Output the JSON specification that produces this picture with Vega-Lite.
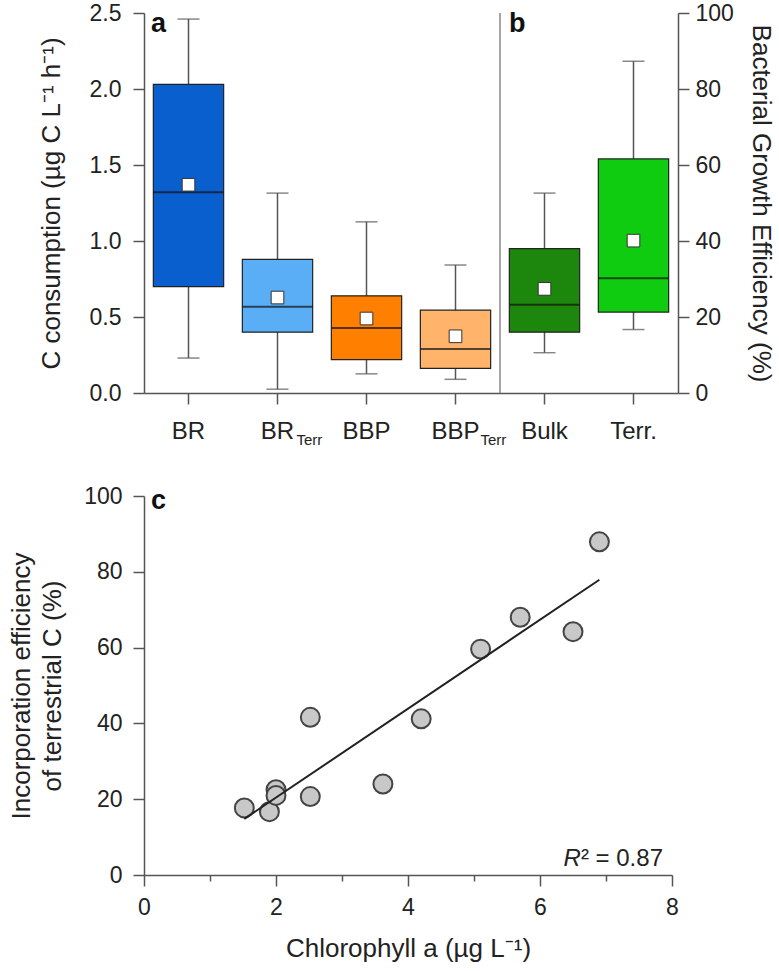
{
  "$schema": "https://vega.github.io/schema/vega-lite/v6.json",
  "padding": {"left": 8, "top": 2, "right": 2, "bottom": 5},
  "bounds": "flush",
  "spacing": 103,
  "config": {
    "view": {"stroke": null},
    "font": "Liberation Sans",
    "axis": {
      "domainColor": "#555", "domainWidth": 1.5,
      "tickColor": "#555", "tickWidth": 1.5, "tickSize": 11,
      "labelFont": "Liberation Sans", "labelFontSize": 23, "labelColor": "#222", "labelPadding": 7,
      "titleFont": "Liberation Sans", "titleFontSize": 26, "titleFontWeight": "normal", "titleColor": "#222",
      "grid": false, "labelOverlap": false, "labelFlush": false
    }
  },
  "datasets": {
    "boxesA": [
      {"cat": "BR", "lo": 0.23, "q1": 0.70, "med": 1.32, "q3": 2.03, "hi": 2.46, "mean": 1.37},
      {"cat": "BR_Terr", "lo": 0.025, "q1": 0.40, "med": 0.567, "q3": 0.879, "hi": 1.315, "mean": 0.628},
      {"cat": "BBP", "lo": 0.126, "q1": 0.22, "med": 0.427, "q3": 0.639, "hi": 1.126, "mean": 0.49},
      {"cat": "BBP_Terr", "lo": 0.09, "q1": 0.162, "med": 0.29, "q3": 0.545, "hi": 0.842, "mean": 0.373}
    ],
    "boxesB": [
      {"cat": "Bulk", "lo": 10.6, "q1": 16.0, "med": 23.2, "q3": 38.0, "hi": 52.6, "mean": 27.4},
      {"cat": "Terr.", "lo": 16.7, "q1": 21.3, "med": 30.2, "q3": 61.6, "hi": 87.3, "mean": 40.1}
    ],
    "subs": [
      {"cat": "BR_Terr", "sub": "Terr"},
      {"cat": "BBP_Terr", "sub": "Terr"}
    ],
    "points": [
      {"chl": 1.52, "eff": 17.7},
      {"chl": 1.90, "eff": 16.7},
      {"chl": 2.00, "eff": 22.5},
      {"chl": 2.00, "eff": 21.0},
      {"chl": 2.52, "eff": 41.6},
      {"chl": 2.52, "eff": 20.7},
      {"chl": 3.62, "eff": 24.0},
      {"chl": 4.20, "eff": 41.2},
      {"chl": 5.10, "eff": 59.6},
      {"chl": 5.70, "eff": 68.0},
      {"chl": 6.50, "eff": 64.2},
      {"chl": 6.90, "eff": 87.9}
    ],
    "fit": [
      {"chl": 1.52, "eff": 14.8},
      {"chl": 6.90, "eff": 77.9}
    ]
  },
  "vconcat": [
    {
      "width": 534,
      "height": 380,
      "layer": [
        {
          "data": {"name": "boxesA"},
          "encoding": {
            "x": {
              "field": "cat", "type": "nominal", "title": null,
              "scale": {"domain": ["BR", "BR_Terr", "BBP", "BBP_Terr", "Bulk", "Terr."], "paddingInner": 0, "paddingOuter": 0},
              "axis": {"labelExpr": "replace(datum.label, '_Terr', '')", "labelAngle": 0, "labelFontSize": 24, "labelPadding": 15, "title": null}
            }
          },
          "layer": [
            {
              "mark": {"type": "rule", "color": "#555", "strokeWidth": 1.5},
              "encoding": {
                "y": {
                  "field": "lo", "type": "quantitative",
                  "scale": {"domain": [0, 2.5], "nice": false, "zero": true},
                  "axis": {
                    "title": "C consumption (µg C L⁻¹ h⁻¹)",
                    "titlePadding": 25,
                    "labelPadding": 12,
                    "values": [0, 0.25, 0.5, 0.75, 1, 1.25, 1.5, 1.75, 2, 2.25, 2.5],
                    "labelExpr": "datum.value % 0.5 == 0 ? format(datum.value, '.1f') : ''",
                    "tickSize": {"condition": {"test": "datum.value % 0.5 != 0", "value": 6}, "value": 11}
                  }
                },
                "y2": {"field": "hi"}
              }
            },
            {
              "mark": {"type": "tick", "color": "#555", "thickness": 1.5, "size": 22},
              "encoding": {"y": {"field": "lo", "type": "quantitative"}}
            },
            {
              "mark": {"type": "tick", "color": "#555", "thickness": 1.5, "size": 22},
              "encoding": {"y": {"field": "hi", "type": "quantitative"}}
            },
            {
              "mark": {"type": "bar", "stroke": "#222", "strokeWidth": 1.2, "opacity": 1, "width": {"band": 0.79}},
              "encoding": {
                "y": {"field": "q1", "type": "quantitative"},
                "y2": {"field": "q3"},
                "color": {
                  "field": "cat", "type": "nominal", "legend": null,
                  "scale": {"domain": ["BR", "BR_Terr", "BBP", "BBP_Terr", "Bulk", "Terr."], "range": ["#0a5fcf", "#5aaef5", "#ff8000", "#ffb36b", "#1d870d", "#10cc10"]}
                }
              }
            },
            {
              "mark": {"type": "tick", "color": "#111", "thickness": 2, "size": 70},
              "encoding": {"y": {"field": "med", "type": "quantitative"}}
            },
            {
              "mark": {"type": "point", "shape": "square", "filled": true, "fill": "white", "stroke": "#333", "strokeWidth": 1, "size": 160, "opacity": 1},
              "encoding": {"y": {"field": "mean", "type": "quantitative"}}
            },
            {
              "data": {"name": "subs"},
              "transform": [{"filter": "datum.cat == 'BR_Terr'"}],
              "mark": {"type": "text", "fontSize": 15, "align": "left", "baseline": "alphabetic", "dx": 19, "dy": 52, "color": "#222"},
              "encoding": {
                "x": {"field": "cat", "type": "nominal"},
                "y": {"value": "height"},
                "text": {"field": "sub"}
              }
            },
            {
              "data": {"name": "subs"},
              "transform": [{"filter": "datum.cat == 'BBP_Terr'"}],
              "mark": {"type": "text", "fontSize": 15, "align": "left", "baseline": "alphabetic", "dx": 25, "dy": 52, "color": "#222"},
              "encoding": {
                "x": {"field": "cat", "type": "nominal"},
                "y": {"value": "height"},
                "text": {"field": "sub"}
              }
            },
            {
              "data": {"values": [{}]},
              "mark": {"type": "rule", "color": "#888", "strokeWidth": 1.5},
              "encoding": {"x": {"datum": "Bulk", "bandPosition": 0}}
            },
            {
              "data": {"values": [{"lab": "a"}]},
              "mark": {"type": "text", "fontSize": 27, "fontWeight": "bold", "align": "left", "baseline": "alphabetic", "dx": 7, "dy": 19, "color": "#111"},
              "encoding": {
                "x": {"datum": "BR", "bandPosition": 0},
                "y": {"datum": 2.5, "type": "quantitative"},
                "text": {"field": "lab"}
              }
            }
          ]
        },
        {
          "data": {"name": "boxesB"},
          "encoding": {
            "x": {
              "field": "cat", "type": "nominal", "title": null,
              "scale": {"domain": ["BR", "BR_Terr", "BBP", "BBP_Terr", "Bulk", "Terr."], "paddingInner": 0, "paddingOuter": 0}
            }
          },
          "layer": [
            {
              "mark": {"type": "rule", "color": "#555", "strokeWidth": 1.5},
              "encoding": {
                "y": {
                  "field": "lo", "type": "quantitative",
                  "scale": {"domain": [0, 100], "nice": false},
                  "axis": {
                    "orient": "right",
                    "title": "Bacterial Growth Efficiency (%)",
                    "titlePadding": 14,
                    "labelPadding": 6,
                    "values": [0, 10, 20, 30, 40, 50, 60, 70, 80, 90, 100],
                    "labelExpr": "datum.value % 20 == 0 ? format(datum.value, 'd') : ''",
                    "tickSize": {"condition": {"test": "datum.value % 20 != 0", "value": 6}, "value": 11}
                  }
                },
                "y2": {"field": "hi"}
              }
            },
            {
              "mark": {"type": "tick", "color": "#555", "thickness": 1.5, "size": 22},
              "encoding": {"y": {"field": "lo", "type": "quantitative"}}
            },
            {
              "mark": {"type": "tick", "color": "#555", "thickness": 1.5, "size": 22},
              "encoding": {"y": {"field": "hi", "type": "quantitative"}}
            },
            {
              "mark": {"type": "bar", "stroke": "#222", "strokeWidth": 1.2, "opacity": 1, "width": {"band": 0.79}},
              "encoding": {
                "y": {"field": "q1", "type": "quantitative"},
                "y2": {"field": "q3"},
                "color": {
                  "field": "cat", "type": "nominal", "legend": null,
                  "scale": {"domain": ["BR", "BR_Terr", "BBP", "BBP_Terr", "Bulk", "Terr."], "range": ["#0a5fcf", "#5aaef5", "#ff8000", "#ffb36b", "#1d870d", "#10cc10"]}
                }
              }
            },
            {
              "mark": {"type": "tick", "color": "#111", "thickness": 2, "size": 70},
              "encoding": {"y": {"field": "med", "type": "quantitative"}}
            },
            {
              "mark": {"type": "point", "shape": "square", "filled": true, "fill": "white", "stroke": "#333", "strokeWidth": 1, "size": 160, "opacity": 1},
              "encoding": {"y": {"field": "mean", "type": "quantitative"}}
            },
            {
              "data": {"values": [{"lab": "b"}]},
              "mark": {"type": "text", "fontSize": 27, "fontWeight": "bold", "align": "left", "baseline": "alphabetic", "dx": 9, "dy": 19, "color": "#111"},
              "encoding": {
                "x": {"datum": "Bulk", "bandPosition": 0},
                "y": {"datum": 100, "type": "quantitative"},
                "text": {"field": "lab"}
              }
            }
          ]
        }
      ],
      "resolve": {"scale": {"y": "independent"}}
    },
    {
      "width": 528,
      "height": 379,
      "layer": [
        {
          "data": {"name": "points"},
          "mark": {"type": "point", "shape": "circle", "filled": true, "fill": "#c8c8c8", "stroke": "#444", "strokeWidth": 2, "size": 360, "opacity": 1},
          "encoding": {
            "x": {
              "field": "chl", "type": "quantitative",
              "scale": {"domain": [0, 8], "nice": false},
              "axis": {
                "title": "Chlorophyll  a (µg L⁻¹)",
                "titlePadding": 16,
                "labelPadding": 10,
                "values": [0, 1, 2, 3, 4, 5, 6, 7, 8],
                "labelExpr": "datum.value % 2 == 0 ? format(datum.value, 'd') : ''",
                "tickSize": {"condition": {"test": "datum.value % 2 != 0", "value": 6}, "value": 11}
              }
            },
            "y": {
              "field": "eff", "type": "quantitative",
              "scale": {"domain": [0, 100], "nice": false},
              "axis": {
                "title": ["Incorporation efficiency", "of terrestrial C (%)"],
                "titleLineHeight": 31,
                "titlePadding": 18,
                "labelPadding": 11,
                "values": [0, 10, 20, 30, 40, 50, 60, 70, 80, 90, 100],
                "labelExpr": "datum.value % 20 == 0 ? format(datum.value, 'd') : ''",
                "tickSize": {"condition": {"test": "datum.value % 20 != 0", "value": 6}, "value": 11}
              }
            }
          }
        },
        {
          "data": {"name": "fit"},
          "mark": {"type": "line", "color": "#222", "strokeWidth": 2},
          "encoding": {
            "x": {"field": "chl", "type": "quantitative"},
            "y": {"field": "eff", "type": "quantitative"}
          }
        },
        {
          "data": {"values": [{"lab": "c"}]},
          "mark": {"type": "text", "fontSize": 27, "fontWeight": "bold", "align": "left", "baseline": "alphabetic", "dx": 7, "dy": 13, "color": "#111"},
          "encoding": {
            "x": {"datum": 0, "type": "quantitative"},
            "y": {"datum": 100, "type": "quantitative"},
            "text": {"field": "lab"}
          }
        },
        {
          "data": {"values": [{"lab": "R"}]},
          "mark": {"type": "text", "fontSize": 24, "fontStyle": "italic", "align": "right", "baseline": "alphabetic", "dy": -9, "color": "#222"},
          "encoding": {
            "x": {"datum": 6.62, "type": "quantitative"},
            "y": {"datum": 0, "type": "quantitative"},
            "text": {"field": "lab"}
          }
        },
        {
          "data": {"values": [{"lab": "² = 0.87"}]},
          "mark": {"type": "text", "fontSize": 24, "align": "left", "baseline": "alphabetic", "dy": -9, "color": "#222"},
          "encoding": {
            "x": {"datum": 6.62, "type": "quantitative"},
            "y": {"datum": 0, "type": "quantitative"},
            "text": {"field": "lab"}
          }
        }
      ]
    }
  ]
}
